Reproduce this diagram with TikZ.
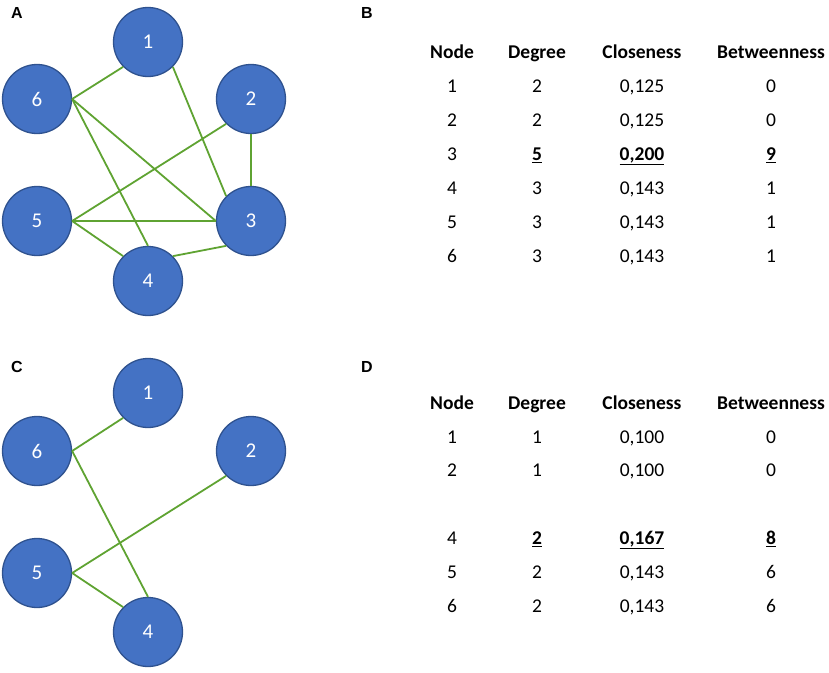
\documentclass[tikz,border=0pt]{standalone}
\usepackage{fontspec}
\setmainfont{Carlito}
\newfontfamily\panelfont{Liberation Sans}
\definecolor{nodeblue}{HTML}{4472C4}
\definecolor{nodeedge}{HTML}{2F528F}
\definecolor{linkgreen}{HTML}{5FA332}

\begin{document}
\begin{tikzpicture}%
  [x=1pt,y=-1pt]
  \tikzstyle{vertex}=[circle,fill=nodeblue,draw=nodeedge,line width=1.3pt,
    minimum size=69pt,inner sep=0,text=white,font=\fontsize{21}{24}\selectfont]
  \tikzstyle{link}=[draw=linkgreen,line width=1.8pt]
  \tikzstyle{cell}=[anchor=base,inner sep=0,font=\fontsize{19.5}{22}\selectfont]
  \tikzstyle{head}=[cell,font=\fontsize{19.5}{22}\selectfont\bfseries]
  \tikzstyle{panel}=[anchor=base,inner sep=0,font=\panelfont\fontsize{16}{18}\selectfont\bfseries]
  \useasboundingbox (0,0) rectangle (829,672);

  % panel labels
  \node(pa)[panel] at (17,18) {A};
  \node(pb)[panel] at (367,18) {B};
  \node(pc)[panel] at (17,372) {C};
  \node(pd)[panel] at (367,372) {D};

  % graph A
  \node(a1)[vertex] at (148,42) {1};
  \node(a2)[vertex] at (251,99) {2};
  \node(a6)[vertex] at (37,99) {6};
  \node(a5)[vertex] at (37,221) {5};
  \node(a3)[vertex] at (251,221) {3};
  \node(a4)[vertex] at (148,281) {4};
  \draw[link] (a6.east) -- (a1.south west);
  \draw[link] (a6.east) -- (a3.west);
  \draw[link] (a6.east) -- (a4.north);
  \draw[link] (a1.south east) -- (a3.north west);
  \draw[link] (a2.south) -- (a3.north);
  \draw[link] (a2.south west) -- (a5.east);
  \draw[link] (a5.east) -- (a3.west);
  \draw[link] (a5.east) -- (a4.north west);
  \draw[link] (a4.north east) -- (a3.south west);

  % graph C
  \node(c1)[vertex] at (148,393) {1};
  \node(c2)[vertex] at (251,451) {2};
  \node(c6)[vertex] at (37,451) {6};
  \node(c5)[vertex] at (37,573) {5};
  \node(c4)[vertex] at (148,632) {4};
  \draw[link] (c6.east) -- (c1.south west);
  \draw[link] (c6.east) -- (c4.north);
  \draw[link] (c2.south west) -- (c5.east);
  \draw[link] (c5.east) -- (c4.north west);

  % table B
  \node(bh1)[head] at (452,58.5) {Node};
  \node(bh2)[head] at (537,58.5) {Degree};
  \node(bh3)[head] at (642,58.5) {Closeness};
  \node(bh4)[head] at (771,58.5) {Betweenness};
  \foreach \n/\y/\d/\c/\b in {1/92.5/2/{0,125}/0, 2/126.5/2/{0,125}/0,
      4/194.5/3/{0,143}/1, 5/228.5/3/{0,143}/1, 6/262.5/3/{0,143}/1}{
    \node(b\n n)[cell] at (452,\y) {\n};
    \node(b\n d)[cell] at (537,\y) {\d};
    \node(b\n c)[cell] at (642,\y) {\c};
    \node(b\n b)[cell] at (771,\y) {\b};
  }
  \node(b3n)[cell] at (452,160.5) {3};
  \node(b3d)[cell] at (537,160.5) {\underline{\textbf{5}}};
  \node(b3c)[cell] at (642,160.5) {\underline{\textbf{0,200}}};
  \node(b3b)[cell] at (771,160.5) {\underline{\textbf{9}}};

  % table D
  \node(dh1)[head] at (452,409.5) {Node};
  \node(dh2)[head] at (537,409.5) {Degree};
  \node(dh3)[head] at (642,409.5) {Closeness};
  \node(dh4)[head] at (771,409.5) {Betweenness};
  \foreach \n/\y/\d/\c/\b in {1/443.5/1/{0,100}/0, 2/476.5/1/{0,100}/0,
      5/578.5/2/{0,143}/6, 6/612.5/2/{0,143}/6}{
    \node(d\n n)[cell] at (452,\y) {\n};
    \node(d\n d)[cell] at (537,\y) {\d};
    \node(d\n c)[cell] at (642,\y) {\c};
    \node(d\n b)[cell] at (771,\y) {\b};
  }
  \node(d4n)[cell] at (452,544.5) {4};
  \node(d4d)[cell] at (537,544.5) {\underline{\textbf{2}}};
  \node(d4c)[cell] at (642,544.5) {\underline{\textbf{0,167}}};
  \node(d4b)[cell] at (771,544.5) {\underline{\textbf{8}}};
\end{tikzpicture}
\end{document}
